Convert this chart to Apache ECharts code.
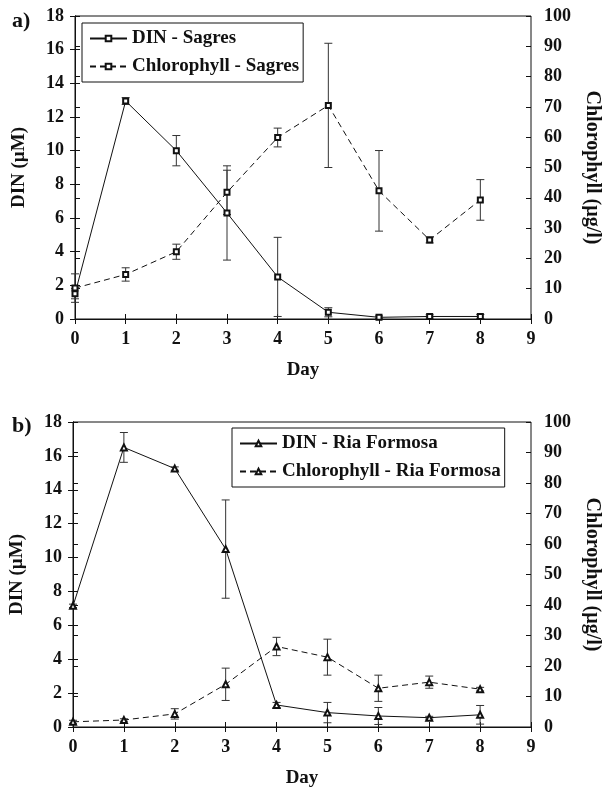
<!DOCTYPE html>
<html>
<head>
<meta charset="utf-8">
<script src="https://cdn.jsdelivr.net/npm/echarts@6/dist/echarts.min.js"></script>
<style>
  html, body { margin: 0; padding: 0; background: #fff; }
  #chart { width: 604px; height: 787px; }
</style>
</head>
<body>
<div id="chart"></div>
<script>
// days on the x axis
const days = [0, 1, 2, 3, 4, 5, 6, 7, 8]

// a) Sagres
const dinSagres = [1.5, 12.95, 10.0, 6.3, 2.5, 0.4, 0.1, 0.15, 0.15]
const dinSagresErr = [0.3, 0.2, 0.9, 2.8, 2.35, 0.27, 0.08, 0.1, 0.12]
const chlSagres = [10.2, 14.7, 22.2, 41.8, 59.9, 70.5, 42.3, 26.1, 39.3]
const chlSagresErr = [4.7, 2.2, 2.5, 7.3, 3.1, 20.5, 13.3, 1.0, 6.7]

// b) Ria Formosa
const dinRia = [7.15, 16.5, 15.25, 10.5, 1.3, 0.85, 0.65, 0.55, 0.72]
const dinRiaErr = [0.1, 0.88, 0.1, 2.9, 0.15, 0.6, 0.5, 0.08, 0.55]
const chlRia = [1.7, 2.3, 4.3, 14.0, 26.4, 22.9, 12.7, 14.7, 12.4]
const chlRiaErr = [0.5, 0.4, 1.7, 5.3, 3.0, 5.9, 4.3, 2.0, 0.6]

const font = 'Liberation Serif'
const ink = '#111'

function errData(vals, errs) {
  return days.map((d, i) => [d, vals[i] - errs[i], vals[i] + errs[i]])
}

function renderErr(params, api) {
  const x = api.value(0)
  const lo = api.coord([x, api.value(1)])
  const hi = api.coord([x, api.value(2)])
  const w = 4
  const st = { stroke: '#333', lineWidth: 1 }
  return {
    type: 'group',
    children: [
      { type: 'line', shape: { x1: lo[0], y1: lo[1], x2: hi[0], y2: hi[1] }, style: st },
      { type: 'line', shape: { x1: lo[0] - w, y1: lo[1], x2: lo[0] + w, y2: lo[1] }, style: st },
      { type: 'line', shape: { x1: hi[0] - w, y1: hi[1], x2: hi[0] + w, y2: hi[1] }, style: st }
    ]
  }
}

const grids = [
  { left: 75, top: 16, width: 456, height: 303 },
  { left: 73, top: 422, width: 458, height: 305 }
]

const labelStyle = { fontFamily: font, fontWeight: 'bold', fontSize: 18, color: ink }
const nameStyle = { fontFamily: font, fontWeight: 'bold', fontSize: 19, color: ink }

let xAxis = []
let yAxis = []
grids.forEach((g, gi) => {
  // outer ticks + labels
  xAxis.push({
    gridIndex: gi, type: 'value', min: 0, max: 9, interval: 1,
    name: 'Day', nameLocation: 'middle', nameGap: 42, nameTextStyle: nameStyle,
    axisLine: { lineStyle: { color: ink, width: 1 } },
    axisTick: { length: 5, lineStyle: { color: ink } },
    axisLabel: Object.assign({ margin: 11 }, labelStyle),
    splitLine: { show: false }
  })
  // inner ticks
  xAxis.push({
    gridIndex: gi, type: 'value', min: 0, max: 9, interval: 1, position: 'bottom',
    axisLine: { show: false },
    axisTick: { inside: true, length: 5, lineStyle: { color: ink } },
    axisLabel: { show: false }, splitLine: { show: false }
  })
  yAxis.push({
    gridIndex: gi, type: 'value', min: 0, max: 18, interval: 2, position: 'left',
    name: 'DIN (µM)', nameLocation: 'middle', nameGap: 46, nameRotate: 90, nameTextStyle: nameStyle,
    axisLine: { show: true, lineStyle: { color: ink } },
    axisTick: { show: true, length: 5, lineStyle: { color: ink } },
    axisLabel: Object.assign({ margin: 11 }, labelStyle),
    splitLine: { show: false }
  })
  yAxis.push({
    gridIndex: gi, type: 'value', min: 0, max: 100, interval: 10, position: 'right',
    name: 'Chlorophyll (µg/l)', nameLocation: 'middle', nameGap: 50, nameRotate: -90,
    nameTextStyle: Object.assign({}, nameStyle, { fontSize: 20 }),
    axisLine: { show: true, lineStyle: { color: ink } },
    axisTick: { show: true, length: 5, lineStyle: { color: ink } },
    axisLabel: Object.assign({ margin: 13 }, labelStyle),
    splitLine: { show: false }
  })
  yAxis.push({
    gridIndex: gi, type: 'value', min: 0, max: 18, interval: 2, position: 'left',
    axisLine: { show: false },
    axisTick: { show: true, inside: true, length: 5, lineStyle: { color: ink } },
    axisLabel: { show: false }, splitLine: { show: false }
  })
  yAxis.push({
    gridIndex: gi, type: 'value', min: 0, max: 100, interval: 10, position: 'right',
    axisLine: { show: false },
    axisTick: { show: true, inside: true, length: 5, lineStyle: { color: ink } },
    axisLabel: { show: false }, splitLine: { show: false }
  })
})

function lineSeries(name, vals, gi, right, dashed, sym, size) {
  return {
    name: name, type: 'line',
    xAxisIndex: gi * 2, yAxisIndex: gi * 4 + (right ? 1 : 0),
    data: days.map((d, i) => [d, vals[i]]),
    symbol: sym, symbolSize: size,
    lineStyle: { color: ink, width: 1, type: dashed ? [6, 4] : 'solid' },
    itemStyle: { color: ink, borderColor: ink, borderWidth: 1 },
    animation: false, z: 3
  }
}

function errSeries(vals, errs, gi, right) {
  return {
    type: 'custom', renderItem: renderErr,
    xAxisIndex: gi * 2, yAxisIndex: gi * 4 + (right ? 1 : 0),
    data: errData(vals, errs), encode: { x: 0, y: [1, 2] },
    silent: true, animation: false, z: 2
  }
}

const legendText = { fontFamily: font, fontWeight: 'bold', fontSize: 19, color: ink }

const option = {
  backgroundColor: '#fff',
  animation: false,
  title: [
    { text: 'a)', left: 7, top: 5, textStyle: { fontFamily: font, fontWeight: 'bold', fontSize: 22, color: ink } },
    { text: 'b)', left: 7, top: 410, textStyle: { fontFamily: font, fontWeight: 'bold', fontSize: 22, color: ink } }
  ],
  grid: grids.map(g => Object.assign({
    show: true, borderColor: ink, borderWidth: 1, backgroundColor: 'transparent',
    containLabel: false, outerBoundsMode: 'none'
  }, g)),
  legend: [
    {
      data: ['DIN - Sagres', 'Chlorophyll - Sagres'], orient: 'vertical',
      left: 82, top: 23, itemWidth: 37, itemHeight: 7, itemGap: 9,
      padding: [6, 4, 6, 7], borderColor: ink, borderWidth: 1,
      textStyle: legendText, backgroundColor: '#fff'
    },
    {
      data: ['DIN - Ria Formosa', 'Chlorophyll - Ria Formosa'], orient: 'vertical',
      left: 232, top: 428, itemWidth: 37, itemHeight: 7, itemGap: 9,
      padding: [6, 4, 6, 7], borderColor: ink, borderWidth: 1,
      textStyle: legendText, backgroundColor: '#fff'
    }
  ],
  xAxis: xAxis,
  yAxis: yAxis,
  series: [
    errSeries(dinSagres, dinSagresErr, 0, false),
    errSeries(chlSagres, chlSagresErr, 0, true),
    lineSeries('DIN - Sagres', dinSagres, 0, false, false, 'emptyRect', 5),
    lineSeries('Chlorophyll - Sagres', chlSagres, 0, true, true, 'emptyRect', 5),
    errSeries(dinRia, dinRiaErr, 1, false),
    errSeries(chlRia, chlRiaErr, 1, true),
    lineSeries('DIN - Ria Formosa', dinRia, 1, false, false, 'emptyTriangle', 6),
    lineSeries('Chlorophyll - Ria Formosa', chlRia, 1, true, true, 'emptyTriangle', 6)
  ]
}

const myChart = echarts.init(document.getElementById('chart'))
myChart.setOption(option)
</script>
</body>
</html>
